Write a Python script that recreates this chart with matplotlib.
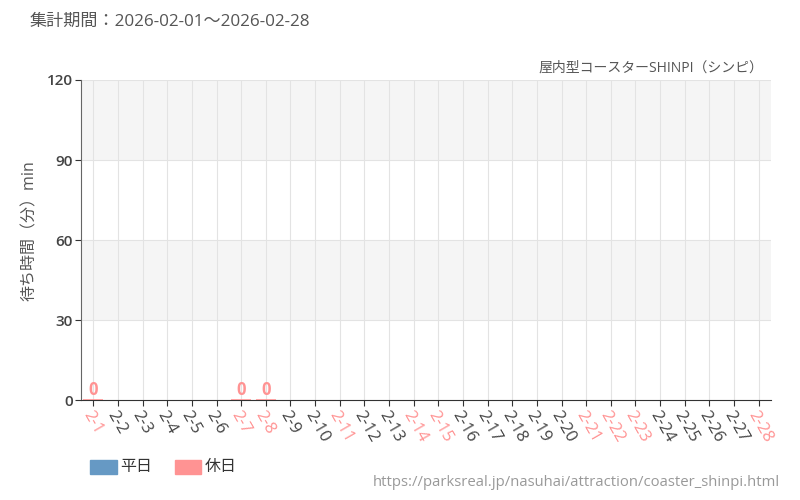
import matplotlib
matplotlib.use("Agg")
import matplotlib.pyplot as plt
from matplotlib.patches import Rectangle

plt.rcParams["font.family"] = ["Open Sans", "Noto Sans CJK JP", "DejaVu Sans"]

# -------------------------------------------------
# Data
# -------------------------------------------------
days = [f"2-{d}" for d in range(1, 29)]
holidays = ["2-1", "2-7", "2-8", "2-11", "2-14", "2-15", "2-21", "2-22", "2-23", "2-28"]
# waiting time (min); days not listed have no data
wait = {"2-1": 0, "2-7": 0, "2-8": 0}

WEEKDAY = "#6699c4"
HOLIDAY = "#ff9393"
TEXT = "#555555"

# -------------------------------------------------
# Figure
# -------------------------------------------------
fig = plt.figure(figsize=(8, 5), dpi=100)
ax = fig.add_axes([0.10125, 0.2, 0.8625, 0.64])

x = list(range(len(days)))
ax.set_xlim(-0.5, len(days) - 0.5)
ax.set_ylim(0, 120)

# background bands
for lo, hi in [(30, 60), (90, 120)]:
    ax.axhspan(lo, hi, color="#f5f5f5", zorder=0, lw=0)
for y in [30, 60, 90, 120]:
    ax.axhline(y, color="#e3e3e3", lw=0.8, zorder=1)
for xi in x:
    ax.axvline(xi, color="#e3e3e3", lw=0.8, zorder=1)

for i, d in enumerate(days):
    if d not in wait:
        continue
    col = HOLIDAY if d in holidays else WEEKDAY
    ax.bar(i, wait[d], width=0.8, color=col, edgecolor=col, lw=1.2, zorder=3)
    ax.text(i, wait[d] + 0.2, str(wait[d]), color=col, ha="center", va="bottom",
            fontsize=12, fontweight="bold", zorder=4)

ax.set_xticks(x)
ax.set_xticklabels(days, rotation=-60, ha="left", va="top", rotation_mode="anchor",
                   fontsize=12)
for lbl in ax.get_xticklabels():
    lbl.set_color(HOLIDAY if lbl.get_text() in holidays else "#444444")

ax.set_yticks([0, 30, 60, 90, 120])
ax.set_yticklabels(["0", "30", "60", "90", "120"], fontsize=11, color="#444444",
                   fontweight="semibold")
ax.tick_params(axis="x", length=4, color="#333333", pad=2)
ax.tick_params(axis="y", length=4, color="#333333", pad=2)

for s in ["top", "right"]:
    ax.spines[s].set_visible(False)
ax.spines["left"].set_color("#666666")
ax.spines["bottom"].set_color("#333333")

ax.set_ylabel("待ち時間（分）min", fontsize=11.5, color=TEXT)
ax.yaxis.set_label_coords(-0.062, 0.53)

# titles
fig.text(30 / 800, 1 - 22 / 500, "集計期間：2026-02-01～2026-02-28", fontsize=12.3,
         color=TEXT, ha="left", va="center")
fig.text(763 / 800, 1 - 68 / 500, "屋内型コースターSHINPI（シンピ）", fontsize=10,
         color=TEXT, ha="right", va="center")

# legend
fig.patches.append(Rectangle((90 / 800, 1 - 474 / 500), 27 / 800, 14 / 500,
                             transform=fig.transFigure, color=WEEKDAY))
fig.text(120 / 800, 1 - 467 / 500, "平日", fontsize=11.5, color="#333333", va="center")
fig.patches.append(Rectangle((175 / 800, 1 - 474 / 500), 26 / 800, 14 / 500,
                             transform=fig.transFigure, color=HOLIDAY))
fig.text(205 / 800, 1 - 467 / 500, "休日", fontsize=11.5, color="#333333", va="center")

fig.text(780 / 800, 1 - 482 / 500, "https://parksreal.jp/nasuhai/attraction/coaster_shinpi.html",
         fontsize=10.7, color="#999999", ha="right", va="center")

fig.savefig("out.png", dpi=100)
